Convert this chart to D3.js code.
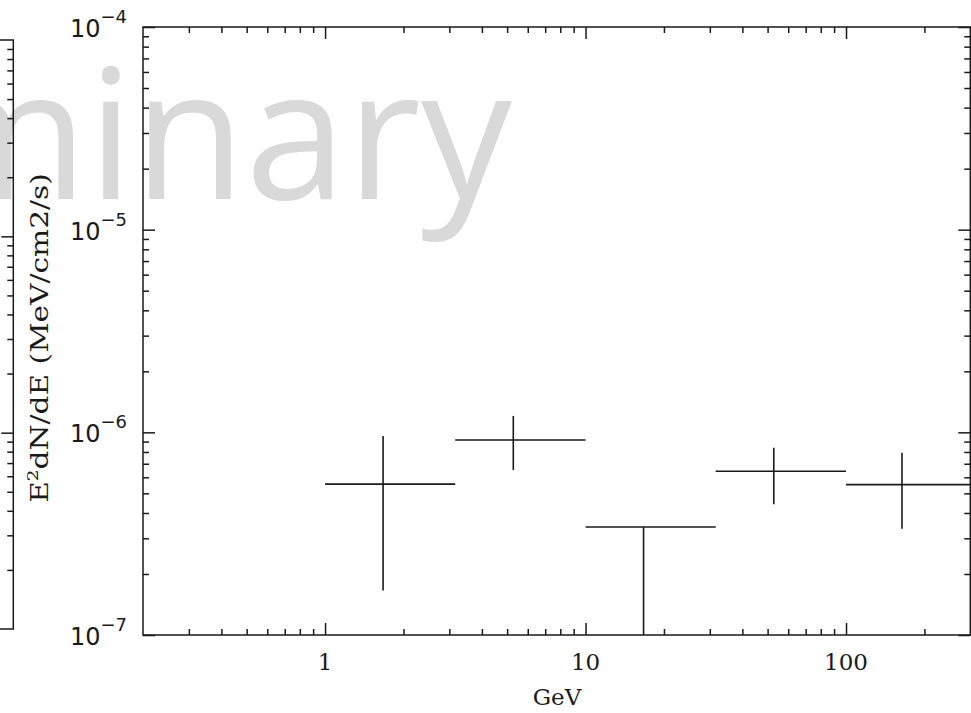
<!DOCTYPE html>
<html>
<head>
<meta charset="utf-8">
<script src="https://cdn.jsdelivr.net/npm/d3@7"></script>
<style>
  html, body { margin: 0; padding: 0; background: #fff; overflow: hidden; }
  svg { display: block; }
</style>
</head>
<body>
<svg id="chart" width="971" height="713"></svg>
<script>
// ---- data ----
const energy   = [1.67, 5.28, 16.7, 52.8, 164];          // GeV, marker position
const binLow   = [1, 3.16, 10, 31.6, 100];                // GeV
const binHigh  = [3.16, 10, 31.6, 100, 316];              // GeV
const flux     = [5.55e-7, 9.17e-7, 3.41e-7, 6.43e-7, 5.52e-7];   // MeV/cm2/s
const fluxHigh = [9.6e-7, 1.205e-6, 3.41e-7, 8.4e-7, 7.94e-7];
const fluxLow  = [1.66e-7, 6.52e-7, 5e-8, 4.42e-7, 3.34e-7];

const xDomain = [0.2, 300];
const yDomain = [1e-7, 1e-4];
const xMajorTicks = [1, 10, 100];
const xTickLabels = ["1", "10", "100"];
const yMajorTicks = [1e-7, 1e-6, 1e-5, 1e-4];
const yTickExponents = ["\u22127", "\u22126", "\u22125", "\u22124"];
const xTitle = "GeV";
const watermark = "Preliminary";

// ---- layout ----
const svg = d3.select("#chart");
const L = 143, R = 970.3, T = 27, B = 635;
const x = d3.scaleLog().domain(xDomain).range([L, R]);
const y = d3.scaleLog().domain(yDomain).range([B, T]);

const ink = "#1a1a1a";

function minorTicks(domain) {
  const out = [];
  const lo = Math.floor(Math.log10(domain[0])), hi = Math.ceil(Math.log10(domain[1]));
  for (let e = lo; e <= hi; e++) {
    for (let m = 2; m <= 9; m++) {
      const v = m * Math.pow(10, e);
      if (v > domain[0] * 1.0001 && v < domain[1] * 0.9999) out.push(v);
    }
  }
  return out;
}
const xMinor = minorTicks(xDomain);
const yMinor = minorTicks(yDomain);

// ---- watermark (behind everything) ----
svg.append("text")
  .attr("x", 512).attr("y", 199)
  .attr("text-anchor", "end")
  .attr("font-family", "'Open Sans', sans-serif")
  .attr("font-size", 182)
  .attr("fill", "#d9d9d9")
  .text(watermark);

// ---- partial neighbouring panel at left edge ----
const yLeft = d3.scaleLog().domain(yDomain).range([629, 40]);
const leftPanel = svg.append("g");
leftPanel.append("rect")
  .attr("x", -400).attr("y", 40).attr("width", 413.3).attr("height", 589)
  .attr("fill", "none").attr("stroke", ink).attr("stroke-width", 1.5);
leftPanel.append("g").attr("transform", "translate(13.3,0)")
  .call(d3.axisRight(yLeft).tickValues(yMajorTicks.slice(1, 3)).tickSize(-12).tickFormat(""))
  .call(g => g.select(".domain").remove());
leftPanel.append("g").attr("transform", "translate(13.3,0)")
  .call(d3.axisRight(yLeft).tickValues(yMinor).tickSize(-6).tickFormat(""))
  .call(g => g.select(".domain").remove());
leftPanel.selectAll("line").attr("stroke", ink).attr("stroke-width", 1.5);

// ---- main frame ----
const axes = svg.append("g");
axes.append("rect")
  .attr("x", L).attr("y", T).attr("width", R - L).attr("height", B - T)
  .attr("fill", "none").attr("stroke", ink).attr("stroke-width", 1.5);

function tickGroup(axisFn, scale, vals, size, tx, ty) {
  axes.append("g").attr("transform", `translate(${tx},${ty})`)
    .call(axisFn(scale).tickValues(vals).tickSize(size).tickFormat(""))
    .call(g => g.select(".domain").remove());
}
// bottom / top (inward)
tickGroup(d3.axisBottom, x, xMajorTicks, -12, 0, B);
tickGroup(d3.axisBottom, x, xMinor, -6, 0, B);
tickGroup(d3.axisTop, x, xMajorTicks, -12, 0, T);
tickGroup(d3.axisTop, x, xMinor, -6, 0, T);
// left / right (inward)
tickGroup(d3.axisLeft, y, yMajorTicks, -12, L, 0);
tickGroup(d3.axisLeft, y, yMinor, -6, L, 0);
tickGroup(d3.axisRight, y, yMajorTicks, -12, R, 0);
tickGroup(d3.axisRight, y, yMinor, -6, R, 0);
axes.selectAll("line").attr("stroke", ink).attr("stroke-width", 1.5);

// ---- tick labels ----
svg.append("g").selectAll("text").data(xMajorTicks).join("text")
  .attr("x", d => x(d)).attr("y", B + 35)
  .attr("text-anchor", "middle")
  .attr("font-family", "'DejaVu Serif', serif")
  .attr("font-size", 23)
  .attr("fill", ink)
  .text((d, i) => xTickLabels[i]);

const yl = svg.append("g").selectAll("text").data(yMajorTicks).join("text")
  .attr("x", L - 16).attr("y", d => y(d) + 10)
  .attr("text-anchor", "end")
  .attr("font-family", "'DejaVu Sans', sans-serif")
  .attr("font-size", 24)
  .attr("fill", ink);
yl.append("tspan").text("10");
yl.append("tspan").attr("font-size", 18).attr("dy", -14).text((d, i) => yTickExponents[i]);

// ---- axis titles ----
svg.append("text")
  .attr("x", 557).attr("y", 705)
  .attr("text-anchor", "middle")
  .attr("font-family", "'DejaVu Serif', serif")
  .attr("font-size", 23)
  .attr("fill", ink)
  .text(xTitle);

const ytG = svg.append("g").attr("transform", "translate(48,338) rotate(-90)");
const yt = ytG.append("text")
  .attr("text-anchor", "middle")
  .attr("font-family", "'DejaVu Serif', serif")
  .attr("font-size", 24)
  .attr("fill", ink);
yt.append("tspan").text("E");
yt.append("tspan").attr("font-size", 15).attr("dy", -10).text("2");
yt.append("tspan").attr("dy", 10).text("dN/dE (MeV/cm2/s)");
const natural = yt.node().getComputedTextLength();
yt.attr("transform", `scale(${330 / natural},1)`);

// ---- data: error crosses ----
svg.append("defs").append("clipPath").attr("id", "plotclip")
  .append("rect").attr("x", L).attr("y", T).attr("width", R - L).attr("height", B - T);
const pts = svg.append("g").attr("clip-path", "url(#plotclip)")
  .attr("stroke", ink).attr("stroke-width", 1.6).attr("fill", "none");
const idx = d3.range(energy.length);
pts.selectAll("line.h").data(idx).join("line").attr("class", "h")
  .attr("x1", i => x(binLow[i])).attr("x2", i => x(binHigh[i]))
  .attr("y1", i => y(flux[i])).attr("y2", i => y(flux[i]));
pts.selectAll("line.v").data(idx).join("line").attr("class", "v")
  .attr("x1", i => x(energy[i])).attr("x2", i => x(energy[i]))
  .attr("y1", i => y(fluxHigh[i])).attr("y2", i => y(fluxLow[i]));
</script>
</body>
</html>
